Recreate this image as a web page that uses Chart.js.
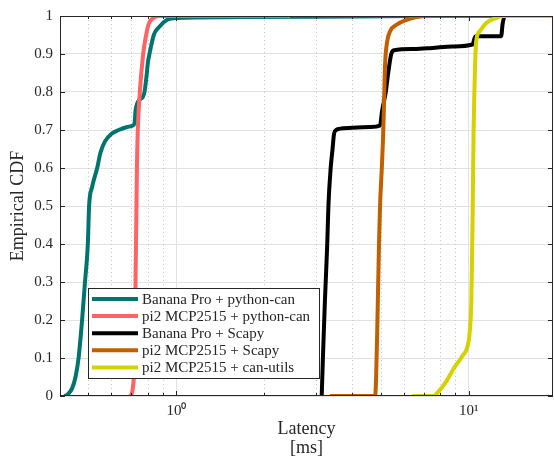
<!DOCTYPE html>
<html>
<head>
<meta charset="utf-8">
<script src="https://cdn.jsdelivr.net/npm/chart.js@4/dist/chart.umd.min.js"></script>
<style>
    html, body { margin: 0; padding: 0; background: #ffffff; }
    #wrap { width: 554px; height: 458px; }
</style>
</head>
<body>
<div id="wrap"><canvas id="cdf" width="554" height="458"></canvas></div>
<script>
// series labels, in legend order
const seriesLabels = [
    'Banana Pro + python-can',
    'pi2 MCP2515 + python-can',
    'Banana Pro + Scapy',
    'pi2 MCP2515 + Scapy',
    'pi2 MCP2515 + can-utils'
];
const seriesColors = ['#00756f', '#ff6363', '#000000', '#c25f00', '#d6d100'];

// latency [ms] and empirical CDF
const bananaPyX = [0.415, 0.426, 0.44, 0.452, 0.463, 0.476, 0.487, 0.498, 0.503, 0.515, 0.536, 0.55, 0.57, 0.6, 0.635, 0.68, 0.71, 0.72, 0.725, 0.75, 0.765, 0.778, 0.79, 0.8, 0.809, 0.837, 0.87, 0.93, 1.0, 1.5, 3.0, 6.5, 19.4];
const bananaPyY = [0, 0.005, 0.02, 0.05, 0.1, 0.2, 0.3, 0.4, 0.5, 0.55, 0.6, 0.64, 0.67, 0.69, 0.7, 0.708, 0.712, 0.72, 0.75, 0.78, 0.785, 0.8, 0.84, 0.88, 0.9, 0.95, 0.97, 0.99, 0.995, 0.997, 0.998, 1, 1];

const pi2PyX = [0.695, 0.703, 0.712, 0.72, 0.725, 0.729, 0.733, 0.738, 0.75, 0.77, 0.788, 0.805, 0.835, 0.88, 2.45];
const pi2PyY = [0, 0.005, 0.03, 0.1, 0.3, 0.45, 0.6, 0.7, 0.8, 0.9, 0.95, 0.98, 0.995, 1, 1];

const bananaScX = [3.14, 3.17, 3.22, 3.28, 3.31, 3.37, 3.42, 3.46, 3.52, 3.6, 4.0, 4.6, 4.97, 5.05, 5.2, 5.3, 5.43, 5.55, 6.5, 7.5, 8.8, 10.3, 10.45, 10.55, 12.9, 13.05, 13.3, 19.4];
const bananaScY = [0, 0.1, 0.25, 0.4, 0.5, 0.6, 0.65, 0.69, 0.7, 0.703, 0.706, 0.708, 0.712, 0.75, 0.8, 0.85, 0.9, 0.91, 0.913, 0.916, 0.92, 0.925, 0.94, 0.947, 0.947, 0.98, 1, 1];

const pi2ScX = [3.35, 4.78, 4.82, 4.87, 4.93, 4.97, 5.04, 5.1, 5.14, 5.17, 5.25, 5.38, 5.66, 6.13, 6.63, 7.2, 19.4];
const pi2ScY = [0, 0, 0.05, 0.2, 0.4, 0.5, 0.6, 0.7, 0.8, 0.87, 0.93, 0.96, 0.977, 0.99, 0.997, 1, 1];

const pi2CuX = [6.39, 7.54, 7.96, 8.4, 8.95, 9.46, 10.0, 10.1, 10.2, 10.3, 10.38, 10.5, 10.6, 10.9, 11.5, 12.5, 13.1, 19.4];
const pi2CuY = [0, 0, 0.016, 0.04, 0.077, 0.103, 0.147, 0.182, 0.25, 0.46, 0.69, 0.864, 0.934, 0.96, 0.982, 0.996, 1, 1];

// axes
const xMin = 0.4;
const xMax = 19.4;
const xTickValues = [0.5, 0.6, 0.7, 0.8, 0.9, 1, 2, 3, 4, 5, 6, 7, 8, 9, 10];
const xMajorTicks = [1, 10];
const xTickLabels = { 1: '10\u2070', 10: '10\u00b9' };
const yTickValues = [0, 0.1, 0.2, 0.3, 0.4, 0.5, 0.6, 0.7, 0.8, 0.9, 1];
const xTitle = ['Latency', '[ms]'];
const yTitle = 'Empirical CDF';

const serif = '"Liberation Serif", "Times New Roman", serif';
const ink = '#262626';

function zip(xs, ys) {
    return xs.map((x, i) => ({ x: x, y: ys[i] }));
}

const seriesData = [
    zip(bananaPyX, bananaPyY),
    zip(pi2PyX, pi2PyY),
    zip(bananaScX, bananaScY),
    zip(pi2ScX, pi2ScY),
    zip(pi2CuX, pi2CuY)
];

const matlabAxes = {
    id: 'matlabAxes',
    beforeDatasetsDraw(chart) {
        const { ctx, chartArea: a, scales } = chart;
        ctx.save();
        ctx.strokeStyle = '#c8c8c8';
        ctx.lineWidth = 1;
        ctx.setLineDash([1, 3]);
        xTickValues.filter(v => !xMajorTicks.includes(v)).forEach(v => {
            const px = Math.round(scales.x.getPixelForValue(v)) + 0.5;
            ctx.beginPath();
            ctx.moveTo(px, a.top);
            ctx.lineTo(px, a.bottom);
            ctx.stroke();
        });
        ctx.restore();
    },
    afterDraw(chart) {
        const { ctx, chartArea: a, scales } = chart;
        ctx.save();

        // box and inward ticks
        ctx.strokeStyle = ink;
        ctx.lineWidth = 1;
        ctx.strokeRect(a.left + 0.5, a.top + 0.5, a.right - a.left - 1, a.bottom - a.top - 1);
        ctx.beginPath();
        yTickValues.forEach(v => {
            const py = Math.round(scales.y.getPixelForValue(v)) + 0.5;
            ctx.moveTo(a.left, py);
            ctx.lineTo(a.left + 5, py);
            ctx.moveTo(a.right, py);
            ctx.lineTo(a.right - 5, py);
        });
        xTickValues.forEach(v => {
            const px = Math.round(scales.x.getPixelForValue(v)) + 0.5;
            const len = xMajorTicks.includes(v) ? 5 : 3;
            ctx.moveTo(px, a.bottom);
            ctx.lineTo(px, a.bottom - len);
            ctx.moveTo(px, a.top);
            ctx.lineTo(px, a.top + len);
        });
        ctx.stroke();

        // axis titles
        ctx.fillStyle = ink;
        ctx.font = '18px ' + serif;
        ctx.textAlign = 'center';
        ctx.textBaseline = 'middle';
        const cx = (a.left + a.right) / 2;
        ctx.fillText(xTitle[0], cx, 429);
        ctx.fillText(xTitle[1], cx, 448);
        ctx.save();
        ctx.translate(18, (a.top + a.bottom) / 2);
        ctx.rotate(-Math.PI / 2);
        ctx.fillText(yTitle, 0, 0);
        ctx.restore();

        // legend inside the axes, lower left
        const box = { x: 88, y: 288, w: 231, h: 90 };
        ctx.fillStyle = '#ffffff';
        ctx.fillRect(box.x, box.y, box.w, box.h);
        ctx.strokeStyle = ink;
        ctx.strokeRect(box.x + 0.5, box.y + 0.5, box.w, box.h);
        ctx.font = '15px ' + serif;
        ctx.textAlign = 'left';
        ctx.textBaseline = 'middle';
        chart.data.datasets.forEach((ds, i) => {
            const y = box.y + 11 + i * 17.1;
            ctx.strokeStyle = ds.borderColor;
            ctx.lineWidth = 4;
            ctx.beginPath();
            ctx.moveTo(box.x + 4, y);
            ctx.lineTo(box.x + 50, y);
            ctx.stroke();
            ctx.fillStyle = ink;
            ctx.fillText(ds.label, box.x + 54, y + 1);
        });

        ctx.restore();
    }
};

new Chart(document.getElementById('cdf'), {
    type: 'line',
    data: {
        datasets: seriesLabels.map((label, i) => ({
            label: label,
            data: seriesData[i],
            borderColor: seriesColors[i],
            backgroundColor: seriesColors[i],
            borderWidth: 4,
            pointRadius: 0,
            fill: false,
            cubicInterpolationMode: 'monotone',
            order: seriesLabels.length - i
        }))
    },
    options: {
        responsive: false,
        animation: false,
        events: [],
        layout: { padding: { left: 0, right: 1, top: 15, bottom: 0 } },
        plugins: {
            legend: { display: false },
            tooltip: { enabled: false }
        },
        scales: {
            x: {
                type: 'logarithmic',
                min: xMin,
                max: xMax,
                border: { display: false },
                grid: {
                    drawTicks: false,
                    color: ctx => (ctx.tick && xMajorTicks.includes(ctx.tick.value)) ? '#e2e2e2' : 'rgba(0,0,0,0)'
                },
                afterBuildTicks: scale => {
                    scale.ticks = xTickValues.map(v => ({ value: v, major: xMajorTicks.includes(v) }));
                },
                afterFit: scale => { scale.height = 62; },
                ticks: {
                    autoSkip: false,
                    maxRotation: 0,
                    padding: 6,
                    color: ink,
                    font: { family: serif, size: 15 },
                    callback: value => xTickLabels[value] || ''
                }
            },
            y: {
                type: 'linear',
                min: 0,
                max: 1,
                border: { display: false },
                grid: { drawTicks: false, color: '#e2e2e2' },
                afterBuildTicks: scale => {
                    scale.ticks = yTickValues.map(v => ({ value: v }));
                },
                afterFit: scale => { scale.width = 60; },
                ticks: {
                    padding: 7,
                    color: ink,
                    font: { family: serif, size: 15 },
                    callback: value => String(Number(value.toFixed(1)))
                }
            }
        }
    },
    plugins: [matlabAxes]
});
</script>
</body>
</html>
